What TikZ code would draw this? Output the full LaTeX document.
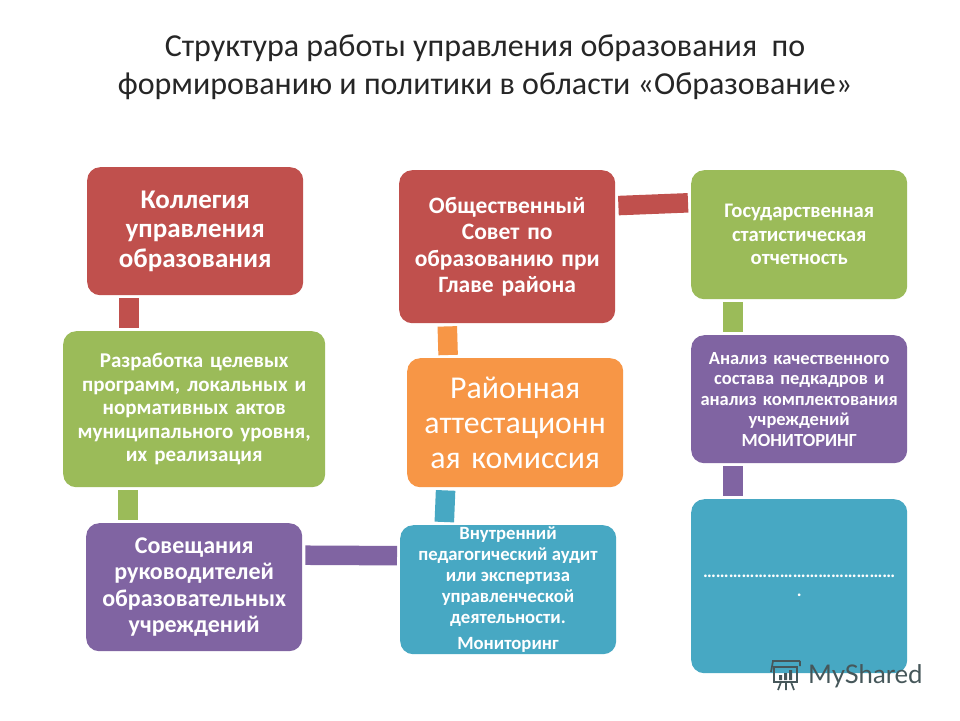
\documentclass[tikz,border=0pt]{standalone}
\usepackage{fontspec}
\setmainfont{Carlito}
\newfontfamily\logofont{Lato}
\usetikzlibrary{calc}
\definecolor{cred}{HTML}{C0504D}
\definecolor{cgreen}{HTML}{9BBB59}
\definecolor{cpurple}{HTML}{8064A2}
\definecolor{cteal}{HTML}{47A8C3}
\definecolor{corange}{HTML}{F79646}
\definecolor{ctitle}{HTML}{262626}
\definecolor{clogo}{HTML}{46575A}
\tikzset{
  x=1pt,y=-1pt,
  boxbase/.style={rounded corners=13pt,inner sep=0pt,align=center,text=white,font=\bfseries,anchor=north west},
  conn/.style={line width=19.5pt,shorten <=3pt,shorten >=3pt},
  titletext/.style={text=ctitle,font=\fontsize{32}{38.5}\selectfont,align=center,inner sep=0pt},
}
\begin{document}
\begin{tikzpicture}
\useasboundingbox (0,0) rectangle (960,720);
\fill[white] (0,0) rectangle (960,720);
\node[titletext] (title) at (485,67) {Структура работы управления образования\ \ по\\формированию и политики в области «Образование»};

\node[boxbase,fill=cred,minimum width=216pt,minimum height=128pt,text width=190pt,font=\bfseries\fontsize{27}{29.5}\selectfont] (koll) at (87,167) {Коллегия\\управления\\образования};
\node[boxbase,fill=cgreen,minimum width=262pt,minimum height=156pt,text width=256pt,font=\bfseries\fontsize{21}{23.5}\selectfont] (razr) at (63,331) {Разработка целевых\\программ, локальных и\\нормативных актов\\муниципального уровня,\\их реализация};
\node[boxbase,fill=cpurple,minimum width=216pt,minimum height=128pt,text width=210pt,font=\bfseries\fontsize{24}{26.5}\selectfont] (sov) at (86,523) {Совещания\\руководителей\\образовательных\\учреждений};
\node[boxbase,fill=cteal,minimum width=216pt,minimum height=129pt,inner sep=0pt] (vnu) at (400,525) {};
\node[text=white,font=\bfseries\fontsize{18.7}{21}\selectfont,align=center,inner sep=0pt,anchor=north] (vnut) at (508,527) {Внутренний\\педагогический аудит\\или экспертиза\\управленческой\\деятельности.\\[5pt]Мониторинг};
\node[boxbase,fill=corange,minimum width=216pt,minimum height=129pt,text width=210pt,font=\fontsize{31.8}{35}\selectfont] (ray) at (407,358) {Районная\\аттестационн\\ая комиссия};
\node[boxbase,fill=cred,minimum width=216pt,minimum height=153pt,text width=210pt,font=\bfseries\fontsize{23.5}{26.5}\selectfont] (obs) at (399,170) {Общественный\\Совет по\\образованию при\\Главе района};
\node[boxbase,fill=cgreen,minimum width=216pt,minimum height=129pt,text width=210pt,font=\bfseries\fontsize{20.7}{23.5}\selectfont] (gos) at (691,170) {Государственная\\статистическая\\отчетность};
\node[boxbase,fill=cpurple,minimum width=216pt,minimum height=128pt,text width=212pt,font=\bfseries\fontsize{18.5}{20.5}\selectfont] (ana) at (691,335) {Анализ качественного\\состава педкадров и\\анализ комплектования\\учреждений\\МОНИТОРИНГ};
\node[boxbase,fill=cteal,minimum width=216pt,minimum height=174pt,text width=212pt,font=\bfseries\fontsize{18}{19}\selectfont] (dots) at (691,499) {………………………………………\\.};

\draw[conn,cred] ([xshift=-66pt]koll.south) -- ([xshift=-65pt]razr.north);
\draw[conn,cgreen] ([xshift=-66pt]razr.south) -- ([xshift=-66pt]sov.north);
\draw[conn,cpurple] ([yshift=32pt]sov.east) -- ([yshift=34pt]vnu.west);
\draw[conn,cteal] ([xshift=-64pt]vnu.north) -- ([xshift=-69.5pt]ray.south);
\draw[conn,corange] ([xshift=-67pt]ray.north) -- ([xshift=-60pt]obs.south);
\draw[conn,cred] ([yshift=41pt]obs.east) -- ([yshift=32pt]gos.west);
\draw[conn,cgreen] ([xshift=-66pt]gos.south) -- ([xshift=-66pt]ana.north);
\draw[conn,cpurple] ([xshift=-66pt]ana.south) -- ([xshift=-66pt]dots.north);

% watermark
\begin{scope}[draw=clogo,line width=1.7pt]
  \draw (772,661) -- (800,661) (773,661) -- (771,672) (800,661) -- (800,666);
  \draw (774,667) rectangle (797,682);
  \fill[clogo] (779,675) rectangle (782,680) (784,673) rectangle (787,680) (789,670) rectangle (792,680);
  \draw (781,682) -- (778,690) (786,682) -- (786,690) (791,682) -- (794,690);
\end{scope}
\node[text=clogo,font=\logofont\fontsize{25.7}{28}\selectfont,anchor=west,inner sep=0pt] (logo) at (808,676) {MyShared};
\end{tikzpicture}
\end{document}
